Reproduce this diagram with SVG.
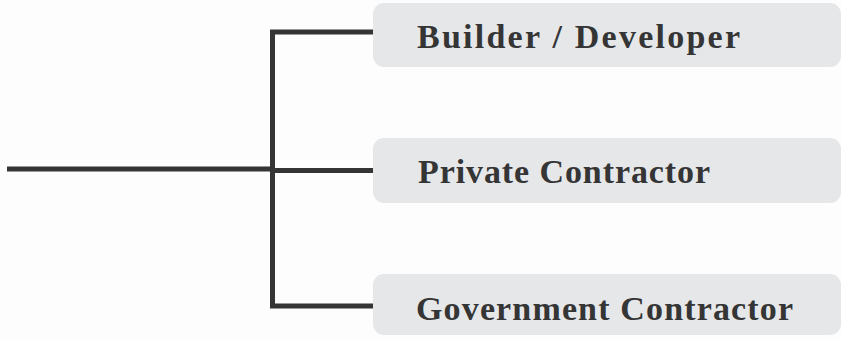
<svg xmlns="http://www.w3.org/2000/svg" width="841" height="339" viewBox="0 0 841 339">
<style>
.box{fill:#e6e7e9;}
.lbl{font-family:"Liberation Serif","Times New Roman",serif;font-weight:bold;font-size:34px;fill:#353535;}
.ln{stroke:#353535;stroke-width:5;fill:none;}
</style>
<rect width="841" height="339" fill="#fdfdfd"/>
<g id="connectors">
<path class="ln" d="M7,169 H272.5"/>
<path class="ln" d="M373,32 H272.5 V306 H373"/>
<path class="ln" d="M272.5,170.5 H373"/>
</g>
<g id="node-builder">
<rect class="box" x="373" y="3" width="468" height="64" rx="11"/>
<text class="lbl" x="417" y="48" textLength="323">Builder / Developer</text>
</g>
<g id="node-private">
<rect class="box" x="373" y="138" width="468" height="65" rx="11"/>
<text class="lbl" x="418" y="183" textLength="292">Private Contractor</text>
</g>
<g id="node-government">
<rect class="box" x="373" y="274" width="468" height="61" rx="11"/>
<text class="lbl" x="416" y="320" textLength="377">Government Contractor</text>
</g>
</svg>
